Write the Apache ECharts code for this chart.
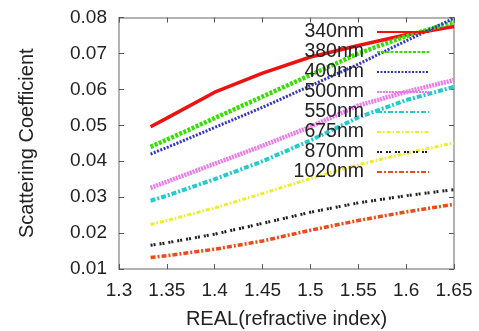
<!DOCTYPE html>
<html>
<head>
<meta charset="utf-8">
<script src="https://cdn.jsdelivr.net/npm/echarts@6/dist/echarts.min.js"></script>
<style>
  html, body { margin: 0; padding: 0; background: #fff; }
  #chart { width: 479px; height: 331px; }
</style>
</head>
<body>
<div id="chart"></div>
<script>
// Real part of the refractive index
const realIndex = [1.333, 1.35, 1.40, 1.45, 1.50, 1.55, 1.60, 1.65];

// Scattering coefficient per wavelength
const wavelengths = ['340nm', '380nm', '400nm', '500nm', '550nm', '675nm', '870nm', '1020nm'];
const sc340  = [0.0496, 0.0520, 0.0592, 0.0645, 0.0690, 0.0722, 0.0752, 0.0775];
const sc380  = [0.0440, 0.0460, 0.0520, 0.0580, 0.0640, 0.0700, 0.0748, 0.0788];
const sc400  = [0.0420, 0.0438, 0.0494, 0.0550, 0.0610, 0.0670, 0.0735, 0.0798];
const sc500  = [0.0326, 0.0343, 0.0393, 0.0443, 0.0496, 0.0555, 0.0593, 0.0626];
const sc550  = [0.0290, 0.0304, 0.0350, 0.0400, 0.0458, 0.0522, 0.0570, 0.0607];
const sc675  = [0.0224, 0.0235, 0.0270, 0.0310, 0.0352, 0.0390, 0.0422, 0.0451];
const sc870  = [0.0166, 0.0173, 0.0197, 0.0227, 0.0258, 0.0284, 0.0304, 0.0321];
const sc1020 = [0.0132, 0.0137, 0.0155, 0.0178, 0.0208, 0.0235, 0.0259, 0.0280];

const xTicks = { min: 1.3, max: 1.65, step: 0.05 };
const yTicks = { min: 0.01, max: 0.08, step: 0.01 };

const values = [sc340, sc380, sc400, sc500, sc550, sc675, sc870, sc1020];
const styles = [
  { color: '#ee1111', width: 3.5, type: 'solid' },
  { color: '#33e000', width: 4.5, type: [3, 1.5] },
  { color: '#3333cc', width: 3,   type: [2, 1.5] },
  { color: '#ee77ee', width: 4.5, type: [2, 1] },
  { color: '#22cccc', width: 4,   type: [5, 2, 2, 2] },
  { color: '#eeee22', width: 3,   type: [4, 2, 1.5, 2] },
  { color: '#222222', width: 3,   type: [2, 1, 2, 4] },
  { color: '#f04a18', width: 3.5, type: [5, 2, 2, 2] }
];

const FONT = '"Liberation Sans", Arial, sans-serif';
const frame = { lineStyle: { color: '#999', width: 1.5 } };
const inTick = { show: true, inside: true, length: 5, lineStyle: { color: '#555', width: 1 } };

const series = wavelengths.map((name, i) => ({
  name: name,
  type: 'line',
  symbol: 'none',
  showSymbol: false,
  xAxisIndex: 0,
  yAxisIndex: 0,
  lineStyle: {
    color: styles[i].color,
    width: styles[i].width,
    type: styles[i].type,
    cap: 'butt'
  },
  itemStyle: { color: styles[i].color },
  data: realIndex.map((x, k) => [x, values[i][k]])
}));

const chart = echarts.init(document.getElementById('chart'), null, { renderer: 'canvas' });
chart.setOption({
  animation: false,
  backgroundColor: '#ffffff',
  textStyle: { fontFamily: FONT },
  grid: {
    left: 119, right: 25, top: 17.5, bottom: 62,
    containLabel: false,
    outerBoundsMode: 'none'
  },
  legend: {
    orient: 'vertical',
    right: 49,
    top: 22,
    align: 'right',
    itemWidth: 52,
    itemHeight: 14,
    itemGap: 0,
    padding: 0,
    selectedMode: false,
    data: wavelengths,
    itemStyle: { opacity: 0 },
    textStyle: {
      fontFamily: FONT,
      fontSize: 19.5,
      color: '#222',
      width: 70,
      align: 'right',
      lineHeight: 20,
      padding: [0, 8, 0, 0]
    }
  },
  xAxis: [
    {
      type: 'value',
      position: 'bottom',
      min: xTicks.min,
      max: xTicks.max,
      interval: xTicks.step,
      name: 'REAL(refractive index)',
      nameLocation: 'middle',
      nameGap: 40,
      nameTextStyle: { fontFamily: FONT, fontSize: 20, color: '#222' },
      axisLine: frame,
      axisTick: inTick,
      splitLine: { show: false },
      axisLabel: {
        fontFamily: FONT, fontSize: 19, color: '#222', margin: 12,
        formatter: v => String(+v.toFixed(2))
      }
    },
    {
      type: 'value',
      position: 'top',
      min: xTicks.min,
      max: xTicks.max,
      interval: xTicks.step,
      axisLine: frame,
      axisTick: inTick,
      splitLine: { show: false },
      axisLabel: { show: false }
    }
  ],
  yAxis: [
    {
      type: 'value',
      position: 'left',
      min: yTicks.min,
      max: yTicks.max,
      interval: yTicks.step,
      name: 'Scattering Coefficient',
      nameLocation: 'middle',
      nameGap: 82,
      nameRotate: 90,
      nameTextStyle: { fontFamily: FONT, fontSize: 20, color: '#222' },
      axisLine: frame,
      axisTick: inTick,
      splitLine: { show: false },
      axisLabel: {
        fontFamily: FONT, fontSize: 19, color: '#222', margin: 12,
        formatter: v => v.toFixed(2)
      }
    },
    {
      type: 'value',
      position: 'right',
      min: yTicks.min,
      max: yTicks.max,
      interval: yTicks.step,
      axisLine: frame,
      axisTick: inTick,
      splitLine: { show: false },
      axisLabel: { show: false }
    }
  ],
  series: series
});
</script>
</body>
</html>
